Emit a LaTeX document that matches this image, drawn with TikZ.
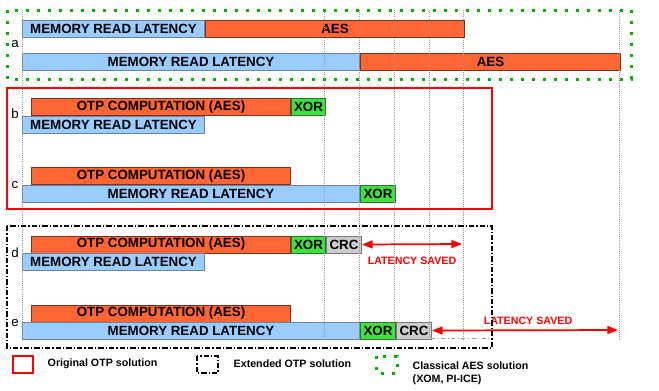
\documentclass[tikz,border=0pt]{standalone}
\usepackage{fontspec}
\setmainfont{Liberation Sans}
\usetikzlibrary{arrows.meta,positioning}

\definecolor{memblue}{RGB}{153,204,255}
\definecolor{memedge}{RGB}{110,130,160}
\definecolor{aesorange}{RGB}{255,102,51}
\definecolor{aesedge}{RGB}{120,50,30}
\definecolor{xorgreen}{RGB}{64,224,64}
\definecolor{xoredge}{RGB}{40,120,40}
\definecolor{crcgray}{RGB}{204,204,204}
\definecolor{crcedge}{RGB}{120,120,120}
\definecolor{dotgreen}{RGB}{0,180,0}
\definecolor{guidegray}{RGB}{150,150,150}

\tikzset{
  bar/.style={draw, line width=0.75pt, inner sep=0pt, minimum height=12.75pt,
    anchor=north west, font=\bfseries\fontsize{10}{12}\selectfont},
  barw/.style={minimum width=#1*0.75pt},
  mem/.style={bar, fill=memblue, draw=memedge},
  aes/.style={bar, fill=aesorange, draw=aesedge},
  xorbox/.style={bar, fill=xorgreen, draw=xoredge},
  crcbox/.style={bar, fill=crcgray, draw=crcedge},
  rowlabel/.style={anchor=base, font=\fontsize{10}{12}\selectfont},
  saved/.style={red, line width=1.3pt, {Triangle[length=8pt,width=6pt]}-{Triangle[length=8pt,width=6pt]}},
  savedtext/.style={red, font=\bfseries\fontsize{8}{10}\selectfont},
  guide/.style={guidegray, line width=0.6pt, densely dotted},
  origbox/.style={red, line width=1.5pt},
  extbox/.style={black, line width=1.5pt, dash pattern=on 4pt off 1.5pt on 1pt off 1.5pt},
  classbox/.style={dotgreen, line width=2.25pt, dash pattern=on 2.25pt off 6pt},
  legendtext/.style={anchor=west, font=\bfseries\fontsize{8}{10}\selectfont, align=left}
}

\begin{document}
\begin{tikzpicture}[x=0.75pt,y=-0.75pt]

\useasboundingbox (0,0) rectangle (659,390);

% row a : classical AES
\node[mem, barw=182] (amem) at (22,20) {MEMORY READ LATENCY};
\node[aes, barw=259] (aaes) at (amem.north east) {AES};

\node[mem, barw=337] (amem2) at (22,53) {MEMORY READ LATENCY};
\node[aes, barw=260] (aaes2) at (amem2.north east) {AES};

\node[rowlabel] (la) at (15,47.5) {a};

% row b
\node[aes, barw=259] (botp) at (31,98) {OTP COMPUTATION (AES)};
\node[xorbox, barw=34] (bxor) at (botp.north east) {XOR};
\node[mem, barw=182] (bmem) at (22,115.5) {MEMORY READ LATENCY};

\node[rowlabel] (lb) at (15,118) {b};

% row c
\node[aes, barw=259] (cotp) at (31,167) {OTP COMPUTATION (AES)};
\node[mem, barw=337] (cmem) at (22,184.5) {MEMORY READ LATENCY};
\node[xorbox, barw=35] (cxor) at (cmem.north east) {XOR};

\node[rowlabel] (lc) at (15,188) {c};

% row d
\node[aes, barw=259] (dotp) at (31,235.5) {OTP COMPUTATION (AES)};
\node[xorbox, barw=34] (dxor) at (dotp.north east) {XOR};
\node[crcbox, barw=35] (dcrc) at (dxor.north east) {CRC};
\node[mem, barw=182] (dmem) at (22,252.5) {MEMORY READ LATENCY};

\node[rowlabel] (ld) at (15,257) {d};

% row e
\node[aes, barw=259] (eotp) at (31,304.5) {OTP COMPUTATION (AES)};
\node[mem, barw=337] (emem) at (22,321.5) {MEMORY READ LATENCY};
\node[xorbox, barw=35] (exor) at (emem.north east) {XOR};
\node[crcbox, barw=35] (ecrc) at (exor.north east) {CRC};

\node[rowlabel] (le) at (15,326.5) {e};

% time marks
\foreach \gx in {22,324,359,394,429,463,619}
  \draw[guide] (\gx,10) -- (\gx,340);

\draw[guidegray, line width=0.6pt, dash dot] (431,338) -- (490,338);

% latency saved
\coordinate (dend) at (462,244);
\draw[saved] (dcrc.east) -- (dend);
\node[savedtext] (dsaved) at (412,261) {LATENCY SAVED};

\coordinate (eend) at (618,330);
\draw[saved] (ecrc.east) -- (eend);
\node[savedtext] (esaved) at (528,321) {LATENCY SAVED};

% solution frames
\draw[classbox] (7,10) rectangle (631,79);
\draw[origbox] (7,88) rectangle (492,209);
\draw[extbox] (7,226) rectangle (492,348);

% legend
\draw[origbox] (13,356) rectangle (33,373);
\node[legendtext] (lorig) at (43,364) {Original OTP solution};

\draw[extbox] (197,356) rectangle (218,373);
\node[legendtext] (lext) at (229,364) {Extended OTP solution};

\draw[classbox] (376,356) rectangle (397,373);
\node[legendtext, anchor=north west] (lclass) at (408,357) {Classical AES solution\\(XOM, PI-ICE)};

\end{tikzpicture}
\end{document}
